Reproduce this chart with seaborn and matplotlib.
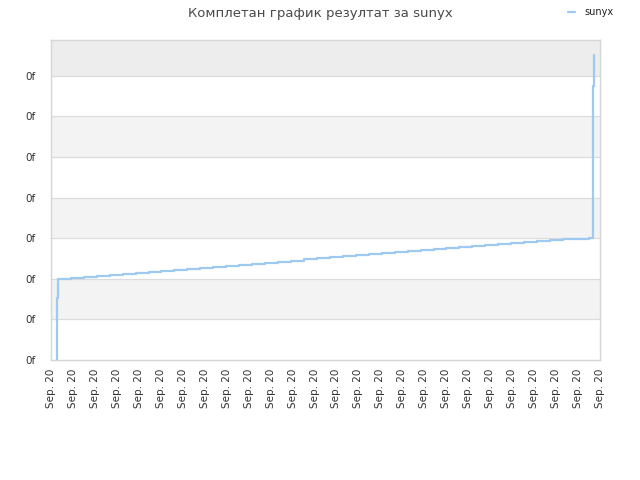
import matplotlib
matplotlib.use("Agg")
import matplotlib.pyplot as plt
import seaborn as sns
import pandas as pd

# run times (in tick units, every tick reads "Sep. 20") and sorted results
times = [0.27, 0.29, 0.33,
         0.90, 1.49, 2.08, 2.67, 3.26, 3.85, 4.44, 5.03, 5.62, 6.21,
         6.80, 7.39, 7.98, 8.57, 9.16, 9.75, 10.34, 10.93, 11.52, 12.11,
         12.70, 13.29, 13.88, 14.47, 15.06, 15.65, 16.24, 16.83, 17.42,
         18.01, 18.60, 19.19, 19.78, 20.37, 20.96, 21.55, 22.14, 22.73,
         23.32, 23.91, 24.50, 24.66, 24.70, 24.74]
results = [0.0, 1.52, 2.0,
           2.025, 2.05, 2.075, 2.10, 2.125, 2.15, 2.175, 2.20, 2.225, 2.25,
           2.275, 2.30, 2.325, 2.35, 2.375, 2.40, 2.425, 2.45, 2.475, 2.50,
           2.525, 2.55, 2.575, 2.60, 2.625, 2.65, 2.675, 2.70, 2.725, 2.75,
           2.775, 2.80, 2.825, 2.85, 2.875, 2.90, 2.925, 2.95, 2.975, 2.99,
           3.0, 5.25, 6.75, 7.5]
tick_pos = list(range(26))
tick_labels = ["Sep. 20"] * len(tick_pos)
y_ticks = list(range(8))
y_labels = ["0f"] * len(y_ticks)

df = pd.DataFrame({"time": times, "result": results, "who": "sunyx"})

sns.set_style("white")
plt.rcParams["font.family"] = ["DejaVu Sans"]

fig = plt.figure(figsize=(6.4, 4.8), dpi=100)
ax = fig.add_axes([51 / 640, 1 - 360 / 480, 549 / 640, 320 / 480])

ymax = 7.88
# alternating bands
for lo in [1, 3, 5]:
    ax.axhspan(lo, lo + 1, color="#f3f3f3", zorder=0, lw=0)
ax.axhspan(7, ymax, color="#ededed", zorder=0, lw=0)
for t in y_ticks[1:]:
    ax.axhline(t, color="#dcdcdc", lw=0.9, zorder=1)

sns.lineplot(data=df, x="time", y="result", hue="who", palette=["#9ecaf2"],
             drawstyle="steps-post", lw=1.6, ax=ax, zorder=3)

ax.set_xlim(0, 25)
ax.set_ylim(0, ymax)
ax.set_xticks(tick_pos)
ax.set_xticklabels(tick_labels, rotation=90, fontsize=7.5, color="#333333")
ax.set_yticks(y_ticks)
ax.set_yticklabels(y_labels, fontsize=7.5, color="#333333")
ax.tick_params(axis="x", length=0, pad=6)
ax.tick_params(axis="y", length=0, pad=11)
ax.set_xlabel("")
ax.set_ylabel("")
for s in ax.spines.values():
    s.set_color("#d6d6d6")
    s.set_linewidth(1)

fig.suptitle("Комплетан график резултат за sunyx", x=0.5, y=0.985,
             fontsize=9.5, color="#4a4a4a")
leg = ax.legend(loc="upper right", bbox_to_anchor=(1.04, 1.13), frameon=False,
                fontsize=7, handlelength=0.8, handletextpad=0.9)
for txt in leg.get_texts():
    txt.set_color("#222222")

fig.savefig("out.png", dpi=100)
